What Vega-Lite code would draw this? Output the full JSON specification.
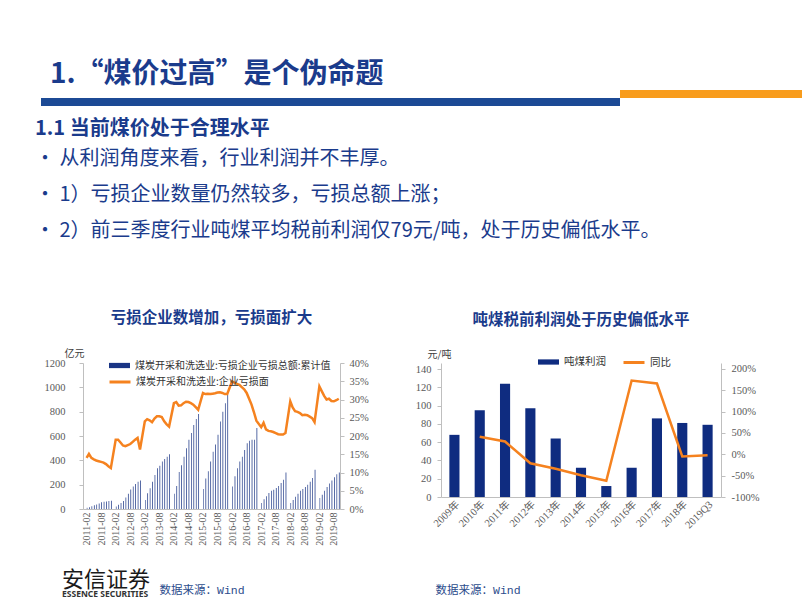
{
  "$schema": "https://vega.github.io/schema/vega-lite/v6.json",
  "padding": {"left": 35, "top": 61, "right": 0, "bottom": 2},
  "background": "white",
  "config": {
    "font": "Noto Sans CJK SC",
    "view": {"stroke": null},
    "title": {"font": "Noto Sans CJK SC", "color": "#1A3B8C"},
    "axis": {"domainColor": "#BFBFBF", "tickColor": "#BFBFBF", "grid": false, "labelFont": "Liberation Serif", "labelColor": "#595959", "labelFontSize": 10.5, "titleFont": "Noto Sans CJK SC", "titleFontWeight": "normal", "titleColor": "#404040", "titleFontSize": 10, "tickSize": 4},
    "legend": {"labelFont": "Noto Sans CJK SC", "labelFontSize": 10, "labelColor": "#333333", "padding": 0, "labelOffset": 4, "labelLimit": 400}
  },
  "title": {"text": "1.“煤价过高”是个伪命题", "anchor": "start", "dx": 15, "offset": 1, "fontSize": 28, "fontWeight": "bold", "color": "#1A3B8C"},
  "resolve": {"scale": {"color": "independent", "stroke": "independent"}, "legend": {"color": "independent", "stroke": "independent"}},
  "vconcat": [
    {
      "spacing": 0,
      "hconcat": [
        {
          "width": 579, "height": 16,
          "data": {"values": [{}]},
          "mark": {"type": "rect", "fill": {"gradient": "linear", "x1": 0, "y1": 0, "x2": 0, "y2": 1, "stops": [{"offset": 0, "color": "#ffffff"}, {"offset": 0.5, "color": "#ffffff"}, {"offset": 0.5, "color": "#1C4A95"}, {"offset": 1, "color": "#1C4A95"}]}},
          "encoding": {"x": {"value": 0}, "x2": {"value": "width"}, "y": {"value": 0}, "y2": {"value": "height"}}
        },
        {
          "width": 182, "height": 16,
          "data": {"values": [{}]},
          "mark": {"type": "rect", "fill": {"gradient": "linear", "x1": 0, "y1": 0, "x2": 0, "y2": 1, "stops": [{"offset": 0, "color": "#F89C1C"}, {"offset": 0.5, "color": "#F89C1C"}, {"offset": 0.5, "color": "#ffffff"}, {"offset": 1, "color": "#ffffff"}]}},
          "encoding": {"x": {"value": 0}, "x2": {"value": "width"}, "y": {"value": 0}, "y2": {"value": "height"}}
        }
      ]
    },
    {
      "title": {
        "text": "1.1 当前煤价处于合理水平",
        "subtitle": ["• 从利润角度来看，行业利润并不丰厚。", "• 1）亏损企业数量仍然较多，亏损总额上涨；", "• 2）前三季度行业吨煤平均税前利润仅79元/吨，处于历史偏低水平。"],
        "anchor": "start", "dx": -6, "offset": 70,
        "fontSize": 20, "fontWeight": "bold", "color": "#1A3B8C",
        "subtitleFont": "Noto Sans CJK SC", "subtitleFontSize": 20, "subtitleColor": "#1A3B8C", "subtitleLineHeight": 36, "subtitlePadding": 10
      },
      "resolve": {"scale": {"color": "independent", "stroke": "independent"}, "legend": {"color": "independent", "stroke": "independent"}},
      "vconcat": [
        {
          "spacing": 46,
          "title": {"text": "安信证券", "subtitle": "ESSENCE SECURITIES", "orient": "bottom", "anchor": "start", "offset": -26, "dx": 21, "fontSize": 22, "fontWeight": "normal", "color": "#1a1a1a", "subtitleFont": "Noto Sans", "subtitleFontSize": 8.5, "subtitleFontWeight": "bold", "subtitleColor": "#333333", "subtitlePadding": -2},
          "resolve": {"scale": {"color": "independent", "stroke": "independent"}, "legend": {"color": "independent", "stroke": "independent"}},
          "hconcat": [
            {
              "width": 299, "height": 146,
              "title": {"text": "亏损企业数增加，亏损面扩大", "fontSize": 15.5, "fontWeight": "bold", "anchor": "middle", "frame": "group", "dx": 21, "offset": 21.5},
              "data": {"values": [
                {"date":"2011-02-01","loss":10,"ratio":14.0},{"date":"2011-03-01","loss":15,"ratio":15.1},{"date":"2011-04-01","loss":22,"ratio":14.0},{"date":"2011-05-01","loss":30,"ratio":13.6},{"date":"2011-06-01","loss":38,"ratio":13.3},{"date":"2011-07-01","loss":45,"ratio":13.1},{"date":"2011-08-01","loss":55,"ratio":12.9},{"date":"2011-09-01","loss":60,"ratio":12.7},{"date":"2011-10-01","loss":62,"ratio":12.3},{"date":"2011-11-01","loss":65,"ratio":11.7},{"date":"2011-12-01","loss":68,"ratio":11.2},
                {"date":"2012-02-01","loss":20,"ratio":19.0},{"date":"2012-03-01","loss":35,"ratio":19.0},{"date":"2012-04-01","loss":50,"ratio":18.2},{"date":"2012-05-01","loss":65,"ratio":17.4},{"date":"2012-06-01","loss":95,"ratio":17.2},{"date":"2012-07-01","loss":125,"ratio":17.5},{"date":"2012-08-01","loss":160,"ratio":17.8},{"date":"2012-09-01","loss":185,"ratio":18.4},{"date":"2012-10-01","loss":205,"ratio":19.0},{"date":"2012-11-01","loss":225,"ratio":19.5},{"date":"2012-12-01","loss":235,"ratio":16.3},
                {"date":"2013-02-01","loss":75,"ratio":24.0},{"date":"2013-03-01","loss":130,"ratio":24.6},{"date":"2013-04-01","loss":170,"ratio":24.3},{"date":"2013-05-01","loss":225,"ratio":23.8},{"date":"2013-06-01","loss":280,"ratio":24.8},{"date":"2013-07-01","loss":335,"ratio":25.4},{"date":"2013-08-01","loss":355,"ratio":25.4},{"date":"2013-09-01","loss":390,"ratio":25.2},{"date":"2013-10-01","loss":410,"ratio":24.0},{"date":"2013-11-01","loss":430,"ratio":23.2},{"date":"2013-12-01","loss":450,"ratio":22.6},
                {"date":"2014-02-01","loss":125,"ratio":29.0},{"date":"2014-03-01","loss":190,"ratio":29.3},{"date":"2014-04-01","loss":305,"ratio":28.3},{"date":"2014-05-01","loss":360,"ratio":28.4},{"date":"2014-06-01","loss":430,"ratio":29.0},{"date":"2014-07-01","loss":500,"ratio":29.4},{"date":"2014-08-01","loss":570,"ratio":29.3},{"date":"2014-09-01","loss":625,"ratio":29.0},{"date":"2014-10-01","loss":690,"ratio":28.6},{"date":"2014-11-01","loss":740,"ratio":27.9},{"date":"2014-12-01","loss":780,"ratio":27.2},
                {"date":"2015-02-01","loss":165,"ratio":31.8},{"date":"2015-03-01","loss":250,"ratio":31.5},{"date":"2015-04-01","loss":310,"ratio":31.6},{"date":"2015-05-01","loss":390,"ratio":31.5},{"date":"2015-06-01","loss":470,"ratio":31.6},{"date":"2015-07-01","loss":530,"ratio":31.7},{"date":"2015-08-01","loss":610,"ratio":31.9},{"date":"2015-09-01","loss":720,"ratio":32.0},{"date":"2015-10-01","loss":800,"ratio":31.8},{"date":"2015-11-01","loss":870,"ratio":31.5},{"date":"2015-12-01","loss":940,"ratio":31.5},
                {"date":"2016-02-01","loss":185,"ratio":35.0},{"date":"2016-03-01","loss":270,"ratio":34.6},{"date":"2016-04-01","loss":335,"ratio":34.3},{"date":"2016-05-01","loss":390,"ratio":34.0},{"date":"2016-06-01","loss":430,"ratio":33.4},{"date":"2016-07-01","loss":485,"ratio":32.8},{"date":"2016-08-01","loss":540,"ratio":31.8},{"date":"2016-09-01","loss":560,"ratio":30.2},{"date":"2016-10-01","loss":570,"ratio":28.6},{"date":"2016-11-01","loss":570,"ratio":26.5},{"date":"2016-12-01","loss":665,"ratio":24.2},
                {"date":"2017-02-01","loss":50,"ratio":22.4},{"date":"2017-03-01","loss":80,"ratio":23.6},{"date":"2017-04-01","loss":104,"ratio":21.8},{"date":"2017-05-01","loss":131,"ratio":21.4},{"date":"2017-06-01","loss":150,"ratio":21.3},{"date":"2017-07-01","loss":158,"ratio":21.1},{"date":"2017-08-01","loss":172,"ratio":20.8},{"date":"2017-09-01","loss":190,"ratio":20.5},{"date":"2017-10-01","loss":213,"ratio":20.4},{"date":"2017-11-01","loss":240,"ratio":20.4},{"date":"2017-12-01","loss":300,"ratio":20.8},
                {"date":"2018-02-01","loss":50,"ratio":29.5},{"date":"2018-03-01","loss":75,"ratio":27.8},{"date":"2018-04-01","loss":100,"ratio":26.8},{"date":"2018-05-01","loss":125,"ratio":26.6},{"date":"2018-06-01","loss":150,"ratio":26.3},{"date":"2018-07-01","loss":165,"ratio":25.7},{"date":"2018-08-01","loss":180,"ratio":25.8},{"date":"2018-09-01","loss":200,"ratio":25.7},{"date":"2018-10-01","loss":225,"ratio":25.3},{"date":"2018-11-01","loss":255,"ratio":24.9},{"date":"2018-12-01","loss":322,"ratio":23.8},
                {"date":"2019-02-01","loss":90,"ratio":33.6},{"date":"2019-03-01","loss":118,"ratio":32.3},{"date":"2019-04-01","loss":150,"ratio":31.0},{"date":"2019-05-01","loss":180,"ratio":30.0},{"date":"2019-06-01","loss":210,"ratio":30.2},{"date":"2019-07-01","loss":235,"ratio":29.6},{"date":"2019-08-01","loss":260,"ratio":29.5},{"date":"2019-09-01","loss":285,"ratio":29.8},{"date":"2019-10-01","loss":300,"ratio":30.2}
              ]},
              "layer": [
                {
                  "mark": {"type": "bar", "width": {"band": 0.7}},
                  "encoding": {
                    "x": {"field": "date", "type": "temporal", "timeUnit": "utcyearmonth",
                      "scale": {"type": "utc", "nice": false, "range": [42, 299], "domain": [{"year": 2011, "month": 1, "date": 1, "utc": true}, {"year": 2019, "month": 11, "date": 1, "utc": true}]},
                      "axis": {"values": [
                        {"year":2011,"month":2,"date":15,"utc":true},{"year":2011,"month":8,"date":15,"utc":true},
                        {"year":2012,"month":2,"date":15,"utc":true},{"year":2012,"month":8,"date":15,"utc":true},
                        {"year":2013,"month":2,"date":15,"utc":true},{"year":2013,"month":8,"date":15,"utc":true},
                        {"year":2014,"month":2,"date":15,"utc":true},{"year":2014,"month":8,"date":15,"utc":true},
                        {"year":2015,"month":2,"date":15,"utc":true},{"year":2015,"month":8,"date":15,"utc":true},
                        {"year":2016,"month":2,"date":15,"utc":true},{"year":2016,"month":8,"date":15,"utc":true},
                        {"year":2017,"month":2,"date":15,"utc":true},{"year":2017,"month":8,"date":15,"utc":true},
                        {"year":2018,"month":2,"date":15,"utc":true},{"year":2018,"month":8,"date":15,"utc":true},
                        {"year":2019,"month":2,"date":15,"utc":true},{"year":2019,"month":8,"date":15,"utc":true}],
                        "format": "%Y-%m", "labelAngle": 270, "ticks": false, "labelFontSize": 10, "labelPadding": 3, "labelOverlap": false,
                        "title": "数据来源：Wind", "titleX": 118, "titleY": 81, "titleAlign": "left", "titleBaseline": "middle", "titleAnchor": "start",
                        "titleFont": "Liberation Mono, Noto Sans CJK SC", "titleFontSize": 11.5, "titleColor": "#2B4C8C"}},
                    "y": {"field": "loss", "type": "quantitative", "scale": {"domain": [0, 1200]},
                      "axis": {"offset": -42, "values": [0, 200, 400, 600, 800, 1000, 1200], "format": "d", "labelPadding": 14, "title": "亿元", "titleAngle": 0, "titleAlign": "center", "titleBaseline": "middle", "titleX": -9, "titleY": -10}},
                    "color": {"datum": "煤炭开采和洗选业:亏损企业亏损总额:累计值", "type": "nominal", "scale": {"range": ["#1A3585"]},
                      "legend": {"title": null, "orient": "none", "legendX": 67, "legendY": -9, "symbolType": "M-1,-0.25H1V0.25H-1Z", "symbolSize": 441}}
                  }
                },
                {
                  "mark": {"type": "line", "strokeWidth": 2.5},
                  "encoding": {
                    "x": {"field": "date", "type": "temporal", "timeUnit": "utcyearmonth", "bandPosition": 0.5, "axis": null},
                    "y": {"field": "ratio", "type": "quantitative", "scale": {"domain": [0, 40]},
                      "axis": {"orient": "right", "values": [0, 5, 10, 15, 20, 25, 30, 35, 40], "labelExpr": "datum.value + '%'", "labelPadding": 5, "title": null}},
                    "stroke": {"datum": "煤炭开采和洗选业:企业亏损面", "type": "nominal", "scale": {"range": ["#F5821F"]},
                      "legend": {"title": null, "orient": "none", "legendX": 67, "legendY": 7, "symbolType": "stroke", "symbolSize": 441, "symbolStrokeWidth": 3}}
                  }
                }
              ],
              "resolve": {"scale": {"y": "independent"}, "axis": {"x": "independent"}}
            },
            {
              "width": 280, "height": 134,
              "title": {"text": "吨煤税前利润处于历史偏低水平", "fontSize": 15.5, "fontWeight": "bold", "anchor": "middle", "frame": "group", "offset": 21},
              "data": {"values": [
                {"year": "2009年", "profit": 68, "yoy": null},
                {"year": "2010年", "profit": 95, "yoy": 41},
                {"year": "2011年", "profit": 124, "yoy": 30},
                {"year": "2012年", "profit": 97, "yoy": -21},
                {"year": "2013年", "profit": 64, "yoy": -34},
                {"year": "2014年", "profit": 32, "yoy": -49},
                {"year": "2015年", "profit": 12, "yoy": -62},
                {"year": "2016年", "profit": 32, "yoy": 173},
                {"year": "2017年", "profit": 86, "yoy": 166},
                {"year": "2018年", "profit": 81, "yoy": -5},
                {"year": "2019Q3", "profit": 79, "yoy": -2}
              ]},
              "encoding": {
                "x": {"field": "year", "type": "ordinal", "sort": null, "scale": {"paddingInner": 0.6, "paddingOuter": 0.33},
                  "axis": {"labelAngle": -45, "ticks": false, "labelFontSize": 10.5, "labelFont": "Liberation Serif, Noto Sans CJK SC",
                    "title": "数据来源：Wind", "titleX": -6, "titleY": 93, "titleAlign": "left", "titleBaseline": "middle", "titleAnchor": "start",
                    "titleFont": "Liberation Mono, Noto Sans CJK SC", "titleFontSize": 11.5, "titleColor": "#2B4C8C"}}
              },
              "layer": [
                {
                  "mark": {"type": "bar"},
                  "encoding": {
                    "y": {"field": "profit", "type": "quantitative", "scale": {"domain": [0, 146.6]},
                      "axis": {"values": [0, 20, 40, 60, 80, 100, 120, 140], "labelPadding": 6, "title": "元/吨", "titleAngle": 0, "titleAlign": "center", "titleBaseline": "middle", "titleX": -2, "titleY": -8.5}},
                    "color": {"datum": "吨煤利润", "type": "nominal", "scale": {"range": ["#0F2C80"]},
                      "legend": {"title": null, "orient": "none", "legendX": 96, "legendY": -12.5, "symbolType": "M-1,-0.25H1V0.25H-1Z", "symbolSize": 441, "labelFontSize": 10.5}}
                  }
                },
                {
                  "mark": {"type": "line", "strokeWidth": 2.5},
                  "encoding": {
                    "y": {"field": "yoy", "type": "quantitative", "scale": {"domain": [-100, 214]},
                      "axis": {"orient": "right", "values": [-100, -50, 0, 50, 100, 150, 200], "labelExpr": "datum.value + '%'", "labelPadding": 6, "title": null}},
                    "stroke": {"datum": "同比", "type": "nominal", "scale": {"range": ["#F5821F"]},
                      "legend": {"title": null, "orient": "none", "legendX": 181, "legendY": -12.5, "symbolType": "stroke", "symbolSize": 441, "symbolStrokeWidth": 3, "labelFontSize": 10.5}}
                  }
                }
              ],
              "resolve": {"scale": {"y": "independent"}}
            }
          ]
        }
      ]
    }
  ],
  "spacing": 13
}
